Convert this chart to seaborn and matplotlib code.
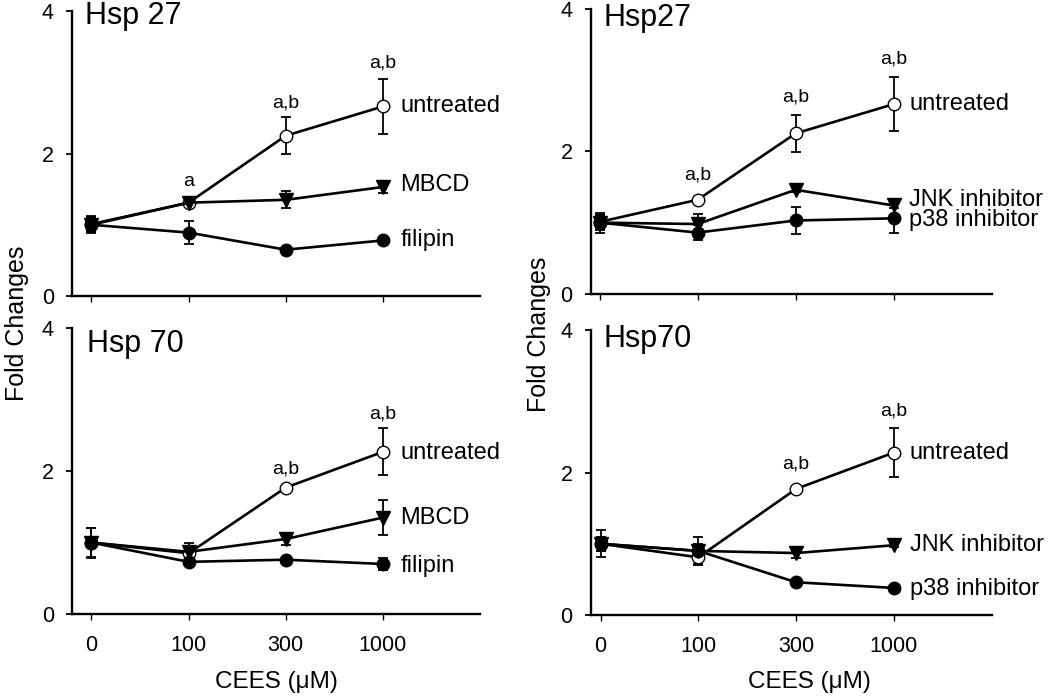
import matplotlib
matplotlib.use("Agg")
import matplotlib.pyplot as plt
import seaborn as sns
import numpy as np
import pandas as pd

# ---------------- data ----------------
doses = ["0", "100", "300", "1000"]
y_ticks = [0, 2, 4]

# Panel A: Hsp 27 (MBCD / filipin)
hsp27_a_untreated = [1.01, 1.31, 2.25, 2.66]
hsp27_a_untreated_err = [0.10, 0.03, 0.26, 0.38]
hsp27_a_mbcd = [1.00, 1.31, 1.35, 1.53]
hsp27_a_mbcd_err = [0.10, 0.03, 0.12, 0.08]
hsp27_a_filipin = [1.00, 0.89, 0.65, 0.78]
hsp27_a_filipin_err = [0.12, 0.16, 0.03, 0.03]

# Panel B: Hsp27 (JNK / p38 inhibitor)
hsp27_b_untreated = [1.01, 1.32, 2.25, 2.66]
hsp27_b_untreated_err = [0.10, 0.03, 0.26, 0.38]
hsp27_b_jnk = [1.00, 0.98, 1.46, 1.24]
hsp27_b_jnk_err = [0.10, 0.14, 0.03, 0.03]
hsp27_b_p38 = [1.00, 0.86, 1.03, 1.06]
hsp27_b_p38_err = [0.14, 0.10, 0.19, 0.20]

# Panel C: Hsp 70 (MBCD / filipin)
hsp70_a_untreated = [1.00, 0.85, 1.77, 2.27]
hsp70_a_untreated_err = [0.21, 0.05, 0.03, 0.33]
hsp70_a_mbcd = [1.00, 0.87, 1.05, 1.35]
hsp70_a_mbcd_err = [0.20, 0.13, 0.08, 0.25]
hsp70_a_filipin = [1.00, 0.73, 0.76, 0.70]
hsp70_a_filipin_err = [0.05, 0.03, 0.03, 0.08]

# Panel D: Hsp70 (JNK / p38 inhibitor)
hsp70_b_untreated = [1.00, 0.81, 1.77, 2.28]
hsp70_b_untreated_err = [0.10, 0.10, 0.03, 0.34]
hsp70_b_jnk = [1.00, 0.90, 0.87, 0.98]
hsp70_b_jnk_err = [0.10, 0.10, 0.07, 0.03]
hsp70_b_p38 = [1.00, 0.90, 0.46, 0.38]
hsp70_b_p38_err = [0.19, 0.20, 0.03, 0.03]

# significance annotations: (dose index, y, text)
sig_a27 = [(1, 1.61, "a"), (2, 2.71, "a,b"), (3, 3.27, "a,b")]
sig_b27 = [(1, 1.67, "a,b"), (2, 2.76, "a,b"), (3, 3.29, "a,b")]
sig_a70 = [(2, 2.03, "a,b"), (3, 2.80, "a,b")]
sig_b70 = [(2, 2.12, "a,b"), (3, 2.87, "a,b")]

# series end labels: (text, y)
lab_a27 = [("untreated", 2.66), ("MBCD", 1.56), ("filipin", 0.79)]
lab_b27 = [("untreated", 2.66), ("JNK inhibitor", 1.32), ("p38 inhibitor", 1.04)]
lab_a70 = [("untreated", 2.26), ("MBCD", 1.34), ("filipin", 0.67)]
lab_b70 = [("untreated", 2.28), ("JNK inhibitor", 0.98), ("p38 inhibitor", 0.37)]

# ---------------- style ----------------
sns.set_theme(style="ticks")
plt.rcParams["font.family"] = ["Liberation Sans", "DejaVu Sans"]
plt.rcParams["axes.linewidth"] = 1.5

fig = plt.figure(figsize=(10.5, 6.97), dpi=100)

axes_rects = {
    "TL": [0.0686, 0.5753, 0.3886, 0.4089],
    "TR": [0.5626, 0.5782, 0.3819, 0.4096],
    "BL": [0.0686, 0.1191, 0.3886, 0.4099],
    "BR": [0.5626, 0.1176, 0.3819, 0.4089],
}

xpos = np.arange(len(doses))

def draw_series(ax, vals, errs, marker, face):
    df = pd.DataFrame({"x": xpos, "y": vals})
    ax.errorbar(xpos, vals, yerr=errs, fmt="none", ecolor="black",
                elinewidth=1.3, capsize=3.8, capthick=1.3, zorder=2, clip_on=False)
    sns.lineplot(data=df, x="x", y="y", ax=ax, color="black", linewidth=1.9,
                 marker=marker, markersize=9 if marker == "o" else 9.5,
                 markerfacecolor=face, markeredgecolor="black", markeredgewidth=1.0,
                 zorder=3, clip_on=False, legend=False)

def setup(ax, xleft, bottom_labels):
    ax.set_xlim(xleft, 4.0)
    ax.set_ylim(0, 4)
    ax.set_yticks(y_ticks)
    ax.set_yticklabels([str(t) for t in y_ticks])
    ax.set_xticks(xpos)
    if bottom_labels:
        ax.set_xticklabels(doses)
    else:
        ax.set_xticklabels([])
    ax.tick_params(axis="y", length=4, width=1.3, pad=9, labelsize=15.5, colors="black")
    ax.tick_params(axis="x", length=4, width=1.0, pad=11, labelsize=15.5, colors="black")
    sns.despine(ax=ax)
    for s in ["left", "bottom"]:
        ax.spines[s].set_color("black")
        ax.spines[s].set_linewidth(1.7)
    ax.set_xlabel("")
    ax.set_ylabel("")

panels = [
    ("TL", "Hsp 27", (0.032, 0.954), -0.2, False,
     [(hsp27_a_untreated, hsp27_a_untreated_err, "o", "white"),
      (hsp27_a_mbcd, hsp27_a_mbcd_err, "v", "black"),
      (hsp27_a_filipin, hsp27_a_filipin_err, "o", "black")], sig_a27, lab_a27, 3.18),
    ("TR", "Hsp27", (0.031, 0.939), -0.09, False,
     [(hsp27_b_untreated, hsp27_b_untreated_err, "o", "white"),
      (hsp27_b_jnk, hsp27_b_jnk_err, "v", "black"),
      (hsp27_b_p38, hsp27_b_p38_err, "o", "black")], sig_b27, lab_b27, 3.16),
    ("BL", "Hsp 70", (0.037, 0.917), -0.2, True,
     [(hsp70_a_untreated, hsp70_a_untreated_err, "o", "white"),
      (hsp70_a_mbcd, hsp70_a_mbcd_err, "v", "black"),
      (hsp70_a_filipin, hsp70_a_filipin_err, "o", "black")], sig_a70, lab_a70, 3.18),
    ("BR", "Hsp70", (0.031, 0.941), -0.1, True,
     [(hsp70_b_untreated, hsp70_b_untreated_err, "o", "white"),
      (hsp70_b_jnk, hsp70_b_jnk_err, "v", "black"),
      (hsp70_b_p38, hsp70_b_p38_err, "o", "black")], sig_b70, lab_b70, 3.16),
]

axd = {}
for key, title, tpos, xleft, blabels, series, sigs, labs, labx in panels:
    ax = fig.add_axes(axes_rects[key])
    axd[key] = ax
    for vals, errs, mk, face in series:
        draw_series(ax, vals, errs, mk, face)
    setup(ax, xleft, blabels)
    ax.text(tpos[0], tpos[1], title, transform=ax.transAxes, fontsize=22,
            ha="left", va="baseline", color="black")
    for xi, yv, s in sigs:
        ax.text(xi, yv, s, ha="center", va="center", fontsize=14, color="black")
    for s, yv in labs:
        ax.text(labx, yv, s, ha="left", va="center", fontsize=17, color="black")

# axis labels
for key, coords in [("TL", (-0.135, -0.095)), ("TR", (-0.13, -0.140))]:
    ax = axd[key]
    ax.set_ylabel("Fold Changes", fontsize=18, va="center", color="black")
    ax.yaxis.set_label_coords(*coords)

for key, coords in [("BL", (0.502, -0.238)), ("BR", (0.545, -0.235))]:
    ax = axd[key]
    ax.set_xlabel("CEES (\u03bcM)", fontsize=17.5, va="center", color="black")
    ax.xaxis.set_label_coords(*coords)

fig.savefig("out.png", dpi=100, facecolor="white")
